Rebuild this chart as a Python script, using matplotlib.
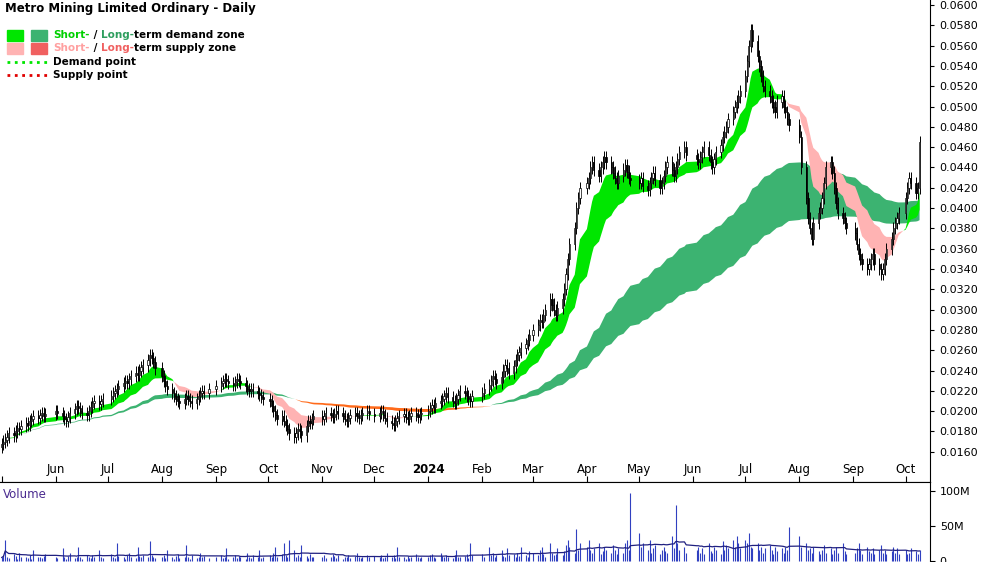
import numpy as np, pandas as pd
import matplotlib
matplotlib.use("Agg")
import matplotlib.pyplot as plt
import matplotlib.dates as mdates
from matplotlib.ticker import FuncFormatter

months = ["2023-05","2023-06","2023-07","2023-08","2023-09","2023-10","2023-11","2023-12",
          "2024-01","2024-02","2024-03","2024-04","2024-05","2024-06","2024-07","2024-08","2024-09","2024-10"]
closes = [
 [168,170,172,175,178,176,180,183,182,185,188,186,190,192,195,193,196,198,195,197],
 [200,198,195,192,190,194,198,202,205,203,200,198,196,200,204,208,210,207,210,212],
 [215,218,220,222,225,228,230,228,232,235,238,236,240,243,245,250,255,252,248,242],
 [235,230,225,222,218,215,212,210,208,212,215,212,210,208,212,215,218,220,218,222],
 [225,228,230,232,230,228,226,229,232,230,228,225,222,220,222,220,218,216,214,212],
 [210,205,200,196,192,195,190,186,182,178,175,178,182,180,176,185,190,188,192,195],
 [192,195,198,196,194,197,200,198,195,192,190,193,196,198,195,193,196,198,200,197],
 [195,198,200,196,193,190,188,186,190,193,195,197,194,192,195,198,196,194,197,198],
 [200,203,206,204,208,210,212,215,218,214,210,208,212,216,220,218,215,212,210,215],
 [218,222,226,230,235,232,228,234,240,245,242,238,244,250,255,258,262,266,270,275],
 [280,285,290,288,295,300,310,305,300,295,302,310,320,335,350,365,380,400,410,420],
 [425,430,440,445,438,432,440,445,450,445,440,435,430,425,432,438,442,436,430,428],
 [425,430,422,418,425,430,435,428,420,425,432,440,445,438,432,440,448,455,460,452],
 [448,445,450,455,460,452,445,440,448,455,462,470,475,480,488,495,500,505,510,515],
 [530,545,560,575,565,550,540,530,520,515,510,505,500,495,505,510,500,495,488,482],
 [470,440,410,390,380,370,385,395,400,410,425,440,445,435,420,405,395,390,385,380],
 [375,365,355,350,345,340,345,350,355,345,340,335,340,350,360,370,380,385,390,395],
 [410,420,430,425,415,420,465],
]
volumes = [
 [5,8,30,6,4,10,7,3,12,5,6,4,8,3,15,6,5,4,7,10],
 [6,4,18,5,3,7,12,4,5,20,6,3,8,5,4,9,6,15,5,4],
 [10,6,4,25,7,5,3,8,12,6,4,20,7,5,9,6,28,8,5,4],
 [6,9,4,15,5,3,7,10,4,6,22,5,3,8,4,6,12,5,7,4],
 [5,8,4,6,18,3,5,9,4,7,5,3,12,6,4,8,5,16,4,6],
 [8,5,12,20,6,10,25,8,5,30,15,6,9,5,22,7,4,10,6,5],
 [6,8,4,5,10,7,4,9,3,6,5,8,4,7,12,5,4,6,8,5],
 [7,5,9,4,6,12,5,8,4,20,6,5,3,7,4,6,10,5,4,6],
 [5,8,10,6,4,12,7,5,9,6,4,8,15,6,5,7,10,4,25,8],
 [10,6,20,8,12,5,9,15,7,6,18,8,10,5,12,7,20,9,6,14],
 [12,8,15,20,10,6,25,12,8,10,18,9,14,22,30,20,12,45,15,25],
 [20,30,15,12,18,25,10,14,20,16,12,22,15,10,18,12,25,30,15,96],
 [40,20,25,15,30,12,18,22,10,15,20,14,12,35,18,80,25,15,20,12],
 [15,20,12,18,10,25,14,12,20,16,10,28,15,22,18,30,20,35,25,18],
 [30,25,40,20,18,25,15,20,12,18,22,15,10,20,14,18,12,20,15,48],
 [35,20,25,15,18,12,20,14,10,16,22,12,18,10,15,20,12,25,14,10],
 [12,18,25,15,10,20,14,12,18,10,15,22,12,16,10,14,20,12,18,10],
 [15,10,12,18,14,10,16],
]

dates, c, v = [], [], []
for m, cl, vl in zip(months, closes, volumes):
    bd = pd.bdate_range(m + "-01", periods=len(cl))
    dates += list(bd); c += cl; v += vl
dates = pd.DatetimeIndex(dates)
c = np.array(c) / 10000.0
v = np.array(v) * 1e6
o = np.concatenate([[c[0] - 0.0003], c[:-1]])
h = np.maximum(o, c) + 0.0006
l = np.minimum(o, c) - 0.0006
s = pd.Series(c)
sf, ss = s.ewm(span=10).mean().values, s.ewm(span=25).mean().values
lf, ls = s.ewm(span=90).mean().values, s.ewm(span=170).mean().values

fig = plt.figure(figsize=(10, 5.62), dpi=100)
ax = fig.add_axes([0, 0.142, 0.93, 0.858])
av = fig.add_axes([0, 0.0, 0.93, 0.142], sharex=ax)
x = mdates.date2num(dates)

ax.fill_between(x, lf, ls, where=lf >= ls, color="#3cb371", lw=0, interpolate=True, zorder=1)
ax.fill_between(x, lf, ls, where=lf < ls, color="#ff6a1a", lw=0, interpolate=True, zorder=1)
ax.fill_between(x, sf, ss, where=sf >= ss, color="#00e600", lw=0, interpolate=True, zorder=2)
ax.fill_between(x, sf, ss, where=sf < ss, color="#ffb3b3", lw=0, interpolate=True, zorder=2)

ax.vlines(x, l, h, color="black", lw=0.7, zorder=3)
up = c >= o
bot = np.minimum(o, c); ht = np.maximum(np.abs(c - o), 0.00005)
ax.bar(x[up], ht[up], bottom=bot[up], width=0.7, color="white", edgecolor="black", lw=0.5, zorder=4)
ax.bar(x[~up], ht[~up], bottom=bot[~up], width=0.7, color="black", edgecolor="black", lw=0.5, zorder=4)

ax.set_ylim(0.0130, 0.0605)
ax.set_xlim(x[0] - 1, x[-1] + 6)
ax.yaxis.tick_right()
ax.set_yticks(np.arange(0.016, 0.0601, 0.002))
ax.yaxis.set_major_formatter(FuncFormatter(lambda val, p: f"{val:.4f}"))
ax.tick_params(axis="y", labelsize=8, direction="out", length=3)
ax.tick_params(axis="x", labelbottom=False, direction="in", length=4)
ax.xaxis.set_major_locator(mdates.MonthLocator())
for d in pd.date_range("2023-06-01", "2024-10-01", freq="MS"):
    lab = "2024" if d.month == 1 else d.strftime("%b")
    ax.text(mdates.date2num(d), 0.012, lab, ha="center", va="bottom", fontsize=8.5,
            fontweight="bold" if d.month == 1 else "normal", transform=ax.get_xaxis_transform())
for sp in ["top", "left"]:
    ax.spines[sp].set_visible(False)

ax.text(0.005, 0.995, "Metro Mining Limited Ordinary - Daily", transform=ax.transAxes,
        ha="left", va="top", fontsize=8.5, fontweight="bold")
def px(xp, yp):
    return (xp / 930.0, 1 - yp / 482.0)
for yy, c1, c2 in [(35, "#00e600", "#3cb371"), (48, "#ffb3b3", "#f06060")]:
    ax.add_patch(plt.Rectangle(px(7, yy + 6), 16 / 930, 11 / 482, color=c1, transform=ax.transAxes))
    ax.add_patch(plt.Rectangle(px(31, yy + 6), 16 / 930, 11 / 482, color=c2, transform=ax.transAxes))

def chain(yp, parts):
    kw = dict(fontsize=7.5, fontweight="bold", va="center", ha="left")
    t = ax.text(*px(53, yp), parts[0][0], color=parts[0][1], transform=ax.transAxes, **kw)
    for s_, col in parts[1:]:
        t = ax.annotate(s_, xy=(1, 0.5), xycoords=t, xytext=(0, 0), textcoords="offset points",
                        color=col, **kw)
chain(35, [("Short-", "#00d000"), (" / ", "black"), ("Long-", "#2e9e5e"), ("term demand zone", "black")])
chain(48, [("Short-", "#ffa0a0"), (" / ", "black"), ("Long-", "#f06060"), ("term supply zone", "black")])
ax.plot([7 / 930, 47 / 930], [1 - 62 / 482] * 2, transform=ax.transAxes, color="#00e600", ls=":", lw=2)
ax.plot([7 / 930, 47 / 930], [1 - 75 / 482] * 2, transform=ax.transAxes, color="#e00000", ls=":", lw=2)
chain(62, [("Demand point", "black")])
chain(75, [("Supply point", "black")])

av.vlines(x, 0, v, color="#3040c0", lw=0.8)
av.plot(x, pd.Series(v).rolling(20, min_periods=1).mean().values, color="#202080", lw=0.9)
av.set_ylim(-1.5e6, 1.12e8)
av.yaxis.tick_right()
av.set_yticks([0, 5e7, 1e8])
av.set_yticklabels(["0", "50M", "100M"])
av.tick_params(axis="y", labelsize=8)
av.tick_params(axis="x", labelbottom=False, length=0)
for sp in ["left", "bottom"]:
    av.spines[sp].set_visible(False)
av.text(0.003, 0.93, "Volume", transform=av.transAxes, ha="left", va="top", fontsize=8.5, color="#4b2c90")

fig.savefig("out.png", dpi=100)
